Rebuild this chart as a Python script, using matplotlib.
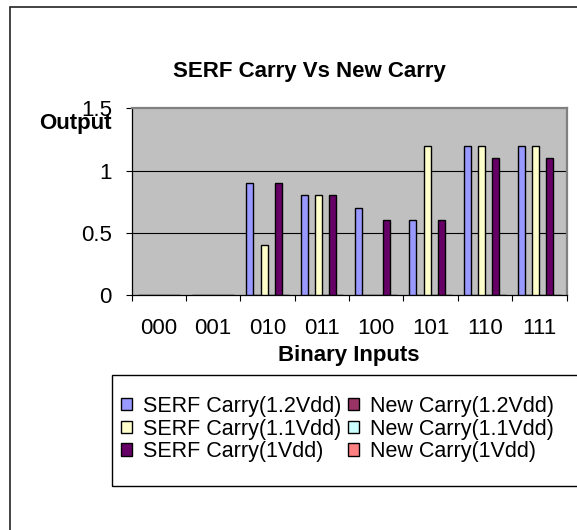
import numpy as np
import matplotlib
matplotlib.use("Agg")
import matplotlib.pyplot as plt
from matplotlib.patches import Patch, Rectangle

plt.rcParams["font.family"] = ["Liberation Sans", "DejaVu Sans"]

# ---------------- Data ---------------- #
categories = ["000", "001", "010", "011", "100", "101", "110", "111"]
series_names = ["SERF Carry(1.2Vdd)", "New Carry(1.2Vdd)",
                "SERF Carry(1.1Vdd)", "New Carry(1.1Vdd)",
                "SERF Carry(1Vdd)", "New Carry(1Vdd)"]
serf_12 = [0, 0, 0.9, 0.8, 0.7, 0.6, 1.2, 1.2]
new_12 = [0, 0, 0, 0, 0, 0, 0, 0]
serf_11 = [0, 0, 0.4, 0.8, 0, 1.2, 1.2, 1.2]
new_11 = [0, 0, 0, 0, 0, 0, 0, 0]
serf_10 = [0, 0, 0.9, 0.8, 0.6, 0.6, 1.1, 1.1]
new_10 = [0, 0, 0, 0, 0, 0, 0, 0]
series_values = [serf_12, new_12, serf_11, new_11, serf_10, new_10]
colors = ["#9999FF", "#993366", "#FFFFCC", "#CCFFFF", "#660066", "#FF8080"]

FS = 16

# ---------------- Figure ---------------- #
fig = plt.figure(figsize=(5.77, 5.30), dpi=100)
fig.patches.append(Rectangle((9.5 / 577, -0.1), 1.2, (530 - 7) / 530 + 0.1,
                             transform=fig.transFigure, fill=False,
                             edgecolor="#222222", linewidth=1.2))

ax = fig.add_axes([131.7 / 577, 235 / 530, 434.8 / 577, 186.7 / 530])
ax.set_facecolor("#C0C0C0")

x = np.arange(len(categories)) + 0.5
w = 0.13
for k, (vals, col) in enumerate(zip(series_values, colors)):
    ax.bar(x + (k - 2.5) * w, vals, width=w, color=col,
           edgecolor="black", linewidth=1.0, zorder=3)

ax.set_xlim(0, len(categories))
ax.set_ylim(0, 1.5)
ax.set_yticks([0, 0.5, 1, 1.5])
ax.set_yticklabels(["0", "0.5", "1", "1.5"], fontsize=FS)
for yv in [0.5, 1.0]:
    ax.axhline(yv, color="black", linewidth=0.8, zorder=1)

ax.set_xticks(np.arange(len(categories) + 1))
ax.set_xticklabels([])
ax.set_xticks(x, minor=True)
ax.set_xticklabels(categories, minor=True, fontsize=FS)
ax.tick_params(axis="x", which="major", length=4.3, width=0.8, direction="out")
ax.tick_params(axis="x", which="minor", length=0, pad=16.5)
ax.tick_params(axis="y", length=4.3, width=0.8, pad=10)

for side in ["left", "bottom"]:
    ax.spines[side].set_color("black")
    ax.spines[side].set_linewidth(0.9)
for side in ["top", "right"]:
    ax.spines[side].set_color("#808080")
    ax.spines[side].set_linewidth(1.6)

fig.text(309 / 577, (530 - 72) / 530, "SERF Carry Vs New Carry",
         ha="center", va="center", fontsize=FS, fontweight="bold")
fig.text(112 / 577, (530 - 123) / 530, "Output",
         ha="right", va="center", fontsize=FS, fontweight="bold")
fig.text(349 / 577, (530 - 355) / 530, "Binary Inputs",
         ha="center", va="center", fontsize=FS, fontweight="bold")

# ---------------- Legend ---------------- #
fig.patches.append(Rectangle((112 / 577, (530 - 486) / 530), 1.0, 111 / 530,
                             transform=fig.transFigure, fill=False,
                             edgecolor="black", linewidth=1.0))
handles = [Patch(facecolor=c, edgecolor="black", linewidth=1.0) for c in colors]
order = [0, 2, 4, 1, 3, 5]
fig.legend([handles[i] for i in order], [series_names[i] for i in order],
           ncol=2, loc="center left", bbox_to_anchor=(121 / 577, (530 - 429) / 530),
           frameon=False, fontsize=15.5, borderpad=0, borderaxespad=0,
           handlelength=0.5, handleheight=0.5, handletextpad=0.5,
           columnspacing=0.35, labelspacing=0.08)

fig.savefig("out.png", dpi=100)
